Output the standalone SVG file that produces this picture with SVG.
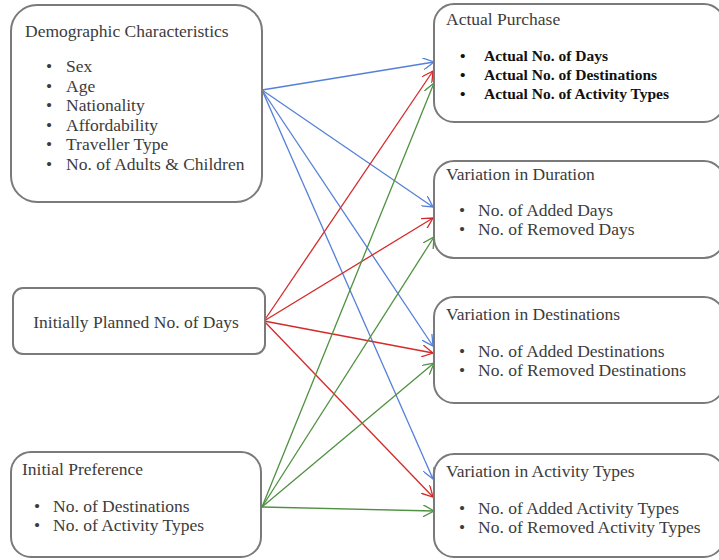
<svg xmlns="http://www.w3.org/2000/svg" width="719" height="560" viewBox="0 0 719 560">
<style>
.box{fill:#fff;stroke:#7a7a7a;stroke-width:2}
text{font-family:"Liberation Serif","Times New Roman",serif;font-size:17.5px;fill:#3c3c3c}
.k{fill:#111;font-weight:bold;font-size:15.5px}
.b{stroke-width:1.3;fill:none}
.bl{stroke:#5580d8}.rd{stroke:#d42a2a}.gr{stroke:#4f9140}
</style>
<defs>
<marker id="ab" viewBox="0 0 12 12" refX="11" refY="6" markerWidth="12" markerHeight="12" markerUnits="userSpaceOnUse" orient="auto"><path d="M0,0L11,6L0,12" fill="none" stroke="#5580d8" stroke-width="1.3"/></marker>
<marker id="ar" viewBox="0 0 12 12" refX="11" refY="6" markerWidth="12" markerHeight="12" markerUnits="userSpaceOnUse" orient="auto"><path d="M0,0L11,6L0,12" fill="none" stroke="#d42a2a" stroke-width="1.3"/></marker>
<marker id="ag" viewBox="0 0 12 12" refX="11" refY="6" markerWidth="12" markerHeight="12" markerUnits="userSpaceOnUse" orient="auto"><path d="M0,0L11,6L0,12" fill="none" stroke="#4f9140" stroke-width="1.3"/></marker>
</defs>
<g id="connectors">
<g class="b bl" marker-end="url(#ab)">
<line x1="262" y1="90" x2="434" y2="62"/>
<line x1="262" y1="90" x2="433" y2="207"/>
<line x1="262" y1="90" x2="433" y2="346"/>
<line x1="262" y1="90" x2="433" y2="479"/>
</g>
<g class="b rd" marker-end="url(#ar)">
<line x1="264" y1="321" x2="433" y2="71"/>
<line x1="264" y1="321" x2="433" y2="218"/>
<line x1="264" y1="321" x2="433" y2="353"/>
<line x1="264" y1="321" x2="433" y2="497"/>
</g>
<g class="b gr" marker-end="url(#ag)">
<line x1="262" y1="507" x2="434" y2="83"/>
<line x1="262" y1="507" x2="434" y2="237"/>
<line x1="262" y1="507" x2="434" y2="363"/>
<line x1="262" y1="507" x2="434" y2="511"/>
</g>
</g>
<g id="demographic">
<rect class="box" x="11" y="5" width="251" height="197" rx="26"/>
<text x="25" y="37">Demographic Characteristics</text>
<text x="46" y="72">•</text><text x="66" y="72">Sex</text>
<text x="46" y="91.5">•</text><text x="66" y="91.5">Age</text>
<text x="46" y="111">•</text><text x="66" y="111">Nationality</text>
<text x="46" y="130.5">•</text><text x="66" y="130.5">Affordability</text>
<text x="46" y="150">•</text><text x="66" y="150">Traveller Type</text>
<text x="46" y="169.5">•</text><text x="66" y="169.5">No. of Adults &amp; Children</text>
</g>
<g id="planned">
<rect class="box" x="13" y="288" width="252" height="66" rx="10"/>
<text x="136" y="328" text-anchor="middle">Initially Planned No. of Days</text>
</g>
<g id="preference">
<rect class="box" x="11" y="452" width="250" height="105" rx="20"/>
<text x="22" y="475">Initial Preference</text>
<text x="34" y="512">•</text><text x="53" y="512">No. of Destinations</text>
<text x="34" y="531">•</text><text x="53" y="531">No. of Activity Types</text>
</g>
<g id="actual">
<rect class="box" x="434" y="4" width="290" height="118" rx="20"/>
<text x="446" y="25">Actual Purchase</text>
<text class="k" x="460" y="61">•</text><text class="k" x="484" y="61">Actual No. of Days</text>
<text class="k" x="460" y="80">•</text><text class="k" x="484" y="80">Actual No. of Destinations</text>
<text class="k" x="460" y="99">•</text><text class="k" x="484" y="99">Actual No. of Activity Types</text>
</g>
<g id="duration">
<rect class="box" x="434" y="161" width="290" height="97" rx="20"/>
<text x="446" y="180">Variation in Duration</text>
<text x="459" y="216">•</text><text x="478" y="216">No. of Added Days</text>
<text x="459" y="235">•</text><text x="478" y="235">No. of Removed Days</text>
</g>
<g id="destinations">
<rect class="box" x="434" y="297" width="290" height="106" rx="20"/>
<text x="446" y="320">Variation in Destinations</text>
<text x="459" y="357">•</text><text x="478" y="357">No. of Added Destinations</text>
<text x="459" y="376">•</text><text x="478" y="376">No. of Removed Destinations</text>
</g>
<g id="activity">
<rect class="box" x="434" y="454" width="290" height="103" rx="20"/>
<text x="446" y="477">Variation in Activity Types</text>
<text x="459" y="514">•</text><text x="478" y="514">No. of Added Activity Types</text>
<text x="459" y="533">•</text><text x="478" y="533">No. of Removed Activity Types</text>
</g>
</svg>
